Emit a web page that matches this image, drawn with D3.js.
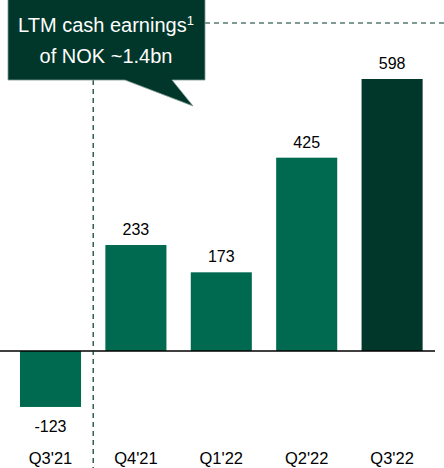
<!DOCTYPE html>
<html>
<head>
<meta charset="utf-8">
<script src="https://cdn.jsdelivr.net/npm/d3@7"></script>
<style>
  html, body { margin: 0; padding: 0; background: #fff; }
  svg { display: block; font-family: Arial, "Liberation Sans", sans-serif; }
</style>
</head>
<body>
<div id="chart"></div>
<script>
// quarterly cash earnings, NOK m
const quarters = ["Q3'21", "Q4'21", "Q1'22", "Q2'22", "Q3'22"]
const earnings = [-123, 233, 173, 425, 598]
const calloutLines = ["LTM cash earnings", "of NOK ~1.4bn"]

const width = 444, height = 468
const svg = d3.select("#chart").append("svg")
    .attr("width", width)
    .attr("height", height)

// scales
const x = d3.scaleBand()
    .domain(quarters)
    .range([7.8, 434.8])
    .paddingInner(0.285)
    .paddingOuter(0.1425)
const y = d3.scaleLinear()
    .domain([0, 598])
    .range([351, 79])

// bars
svg.selectAll(".bar")
    .data(quarters)
    .join("rect")
    .attr("class", "bar")
    .attr("x", d => x(d))
    .attr("width", x.bandwidth())
    .attr("y", (d, i) => y(Math.max(0, earnings[i])))
    .attr("height", (d, i) => Math.abs(y(earnings[i]) - y(0)))
    .attr("fill", (d, i) => i === quarters.length - 1 ? "#00372A" : "#006A50")

// zero line
svg.append("line")
    .attr("x1", 0).attr("x2", 435)
    .attr("y1", y(0)).attr("y2", y(0))
    .attr("stroke", "#000").attr("stroke-width", 1.3)

// value labels
svg.selectAll(".val")
    .data(quarters)
    .join("text")
    .attr("class", "val")
    .attr("x", d => x(d) + x.bandwidth() / 2)
    .attr("y", (d, i) => earnings[i] >= 0 ? y(earnings[i]) - 10 : y(earnings[i]) + 25)
    .attr("text-anchor", "middle")
    .attr("font-size", 16)
    .attr("fill", "#000")
    .text((d, i) => earnings[i])

// category labels
svg.selectAll(".cat")
    .data(quarters)
    .join("text")
    .attr("class", "cat")
    .attr("x", d => x(d) + x.bandwidth() / 2)
    .attr("y", 464)
    .attr("text-anchor", "middle")
    .attr("font-size", 16.5)
    .attr("fill", "#000")
    .text(d => d)

// dashed separators
const sepX = (x(quarters[0]) + x.bandwidth() + x(quarters[1])) / 2
svg.append("line")
    .attr("x1", sepX).attr("x2", sepX)
    .attr("y1", 80).attr("y2", height)
    .attr("stroke", "#00372A").attr("stroke-width", 1.2)
    .attr("stroke-dasharray", "5,4")
svg.append("line")
    .attr("x1", 205).attr("x2", width)
    .attr("y1", 23).attr("y2", 23)
    .attr("stroke", "#00372A").attr("stroke-width", 1.2)
    .attr("stroke-dasharray", "5,4")

// callout bubble
svg.append("path")
    .attr("d", "M8,-1 H205 V80 H172 L193,106 L125,80 H8 Z")
    .attr("fill", "#00372A")
    .attr("stroke", "#7f9a92").attr("stroke-width", 0.8)

const callout = svg.append("text")
    .attr("text-anchor", "middle")
    .attr("fill", "#fff")
    .attr("font-size", 20)
const l1 = callout.append("tspan").attr("x", 106).attr("y", 32).text(calloutLines[0])
l1.append("tspan").attr("font-size", 13).attr("dy", -7).text("1")
callout.append("tspan").attr("x", 106).attr("y", 63).text(calloutLines[1])
</script>
</body>
</html>
